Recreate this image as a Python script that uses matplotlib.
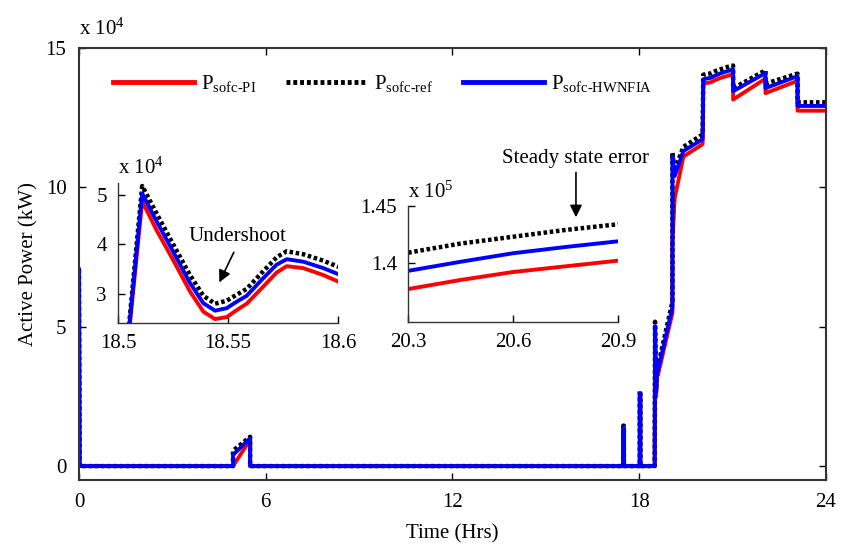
import numpy as np
import matplotlib
matplotlib.use("Agg")
import matplotlib.pyplot as plt
from matplotlib.ticker import FixedLocator, FixedFormatter

plt.rcParams['font.family'] = ['Liberation Serif', 'DejaVu Serif']
plt.rcParams['mathtext.fontset'] = 'custom'
plt.rcParams['mathtext.rm'] = 'Liberation Serif'
plt.rcParams['mathtext.it'] = 'Liberation Serif:italic'
plt.rcParams['mathtext.bf'] = 'Liberation Serif:bold'

# time axis (hours), shared by the three series
t_hrs = [0.0, 0.02, 4.95, 4.95, 5.5, 5.5, 17.49, 17.49, 17.51, 17.51, 18.02, 18.02, 18.04, 18.04, 18.5,
         18.511, 18.5176, 18.5251, 18.5327, 18.5388, 18.5441, 18.5494, 18.5539, 18.5585, 18.5661,
         18.5721, 18.5767, 18.5842, 18.5933, 18.6,
         19.07, 19.07, 19.14, 19.42, 20.04, 20.06, 20.3, 20.45, 20.6, 20.75, 20.9, 21.02, 21.02,
         22.06, 22.06, 23.09, 23.09, 24.0]

# active power (kW)
p_pi = [70500, 0, 0, 0, 9500, 0, 0, 13500, 13500, 0, 0, 25500, 25500, 0, 0,
        48700, 42800, 36800, 30500, 26400, 24900, 25300, 26700, 28000, 31500,
        34300, 35600, 35200, 33800, 32500,
        55000, 80000, 96000, 111000, 115500, 137200, 137700, 138500, 139200, 139700, 140200, 140500, 131500,
        139000, 133800, 138200, 127500, 127500]
p_ref = [70500, 0, 0, 5500, 10500, 0, 0, 14500, 14500, 0, 0, 27000, 27000, 0, 0,
         51800, 46200, 40000, 33800, 29600, 28000, 28600, 29800, 31000, 34600,
         37400, 38600, 38000, 36700, 35500,
         59000, 112500, 106000, 114500, 119000, 140400, 140900, 141700, 142300, 142900, 143400, 143700, 135500,
         142000, 137200, 140800, 130500, 130500]
p_hw = [70500, 0, 0, 4000, 10000, 0, 0, 13700, 13700, 0, 0, 26000, 26000, 0, 0,
        50300, 44600, 38500, 32200, 28100, 26600, 27100, 28400, 29600, 33200,
        35900, 37000, 36500, 35200, 34000,
        57000, 111000, 104000, 113000, 117300, 138800, 139300, 140100, 140850, 141400, 141900, 142300, 134500,
        141000, 135600, 139900, 129200, 129200]

labels = [r'P$_{\text{sofc-PI}}$', r'P$_{\text{sofc-ref}}$', r'P$_{\text{sofc-HWNFIA}}$']

x_ticks = [0, 6, 12, 18, 24]
y_ticks = [0, 50000, 100000, 150000]
y_tick_labels = ['0', '5', '10', '15']
in1_xticks = [18.5, 18.55, 18.6]
in1_xlabels = ['18.5', '18.55', '18.6']
in1_yticks = [30000, 40000, 50000]
in1_ylabels = ['3', '4', '5']
in2_xticks = [20.3, 20.6, 20.9]
in2_xlabels = ['20.3', '20.6', '20.9']
in2_yticks = [140000, 145000]
in2_ylabels = ['1.4', '1.45']

FS = 15
LW = 2.8


def draw_lines(ax, with_labels=False):
    ax.plot(t_hrs, p_pi, color='#ff0000', lw=LW, label=labels[0] if with_labels else None)
    ax.plot(t_hrs, p_ref, color='black', lw=3.2, linestyle=(0, (0.8, 0.6)),
            label=labels[1] if with_labels else None)
    ax.plot(t_hrs, p_hw, color='#0000ff', lw=LW, label=labels[2] if with_labels else None)


def style_axes(ax, lw):
    ax.tick_params(direction='in', labelsize=FS, length=5, width=1)
    for s in ax.spines.values():
        s.set_linewidth(lw)
        s.set_color('#333333')


fig = plt.figure(figsize=(8.41, 5.44), dpi=100)
ax = fig.add_axes([0.0939, 0.1176, 0.8881, 0.7942])
draw_lines(ax, with_labels=True)
ax.set_xlim(0, 24)
ax.set_ylim(-5000, 150000)
ax.xaxis.set_major_locator(FixedLocator(x_ticks))
ax.yaxis.set_major_locator(FixedLocator(y_ticks))
ax.yaxis.set_major_formatter(FixedFormatter(y_tick_labels))
style_axes(ax, 1.5)
ax.tick_params(top=True, right=True, pad=9)
ax.set_xlabel('Time (Hrs)', fontsize=FS, labelpad=9)
ax.set_ylabel('Active Power (kW)', fontsize=FS, labelpad=5)
ax.text(0.0, 1.02, r'x 10$^{4}$', transform=ax.transAxes, fontsize=FS, ha='left', va='bottom')

leg = ax.legend(loc='upper left', bbox_to_anchor=(0.02, 0.985), ncol=3, frameon=False,
                fontsize=FS, handlelength=3.9, handletextpad=0.35, columnspacing=1.4)
for line in leg.get_lines():
    line.set_linewidth(3.5)

# inset 1: undershoot
ax1 = fig.add_axes([0.1403, 0.4062, 0.2616, 0.2574])
draw_lines(ax1)
ax1.set_xlim(18.5, 18.6)
ax1.set_ylim(24100, 52400)
ax1.xaxis.set_major_locator(FixedLocator(in1_xticks))
ax1.xaxis.set_major_formatter(FixedFormatter(in1_xlabels))
ax1.yaxis.set_major_locator(FixedLocator(in1_yticks))
ax1.yaxis.set_major_formatter(FixedFormatter(in1_ylabels))
ax1.spines['top'].set_visible(False)
ax1.spines['right'].set_visible(False)
style_axes(ax1, 1.0)
ax1.tick_params(pad=8)
ax1.text(0.0, 1.03, r'x 10$^{4}$', transform=ax1.transAxes, fontsize=FS, ha='left', va='bottom')
ax1.text(18.5545, 41500, 'Undershoot', fontsize=FS, ha='center', va='center')
ax1.annotate('', xy=(18.5455, 31800), xytext=(18.5532, 38900),
             arrowprops=dict(arrowstyle='-|>', color='black', lw=1.2, mutation_scale=18))

# inset 2: steady state error
ax2 = fig.add_axes([0.4851, 0.408, 0.2497, 0.2132])
draw_lines(ax2)
ax2.set_xlim(20.3, 20.9)
ax2.set_ylim(134800, 145000)
ax2.xaxis.set_major_locator(FixedLocator(in2_xticks))
ax2.xaxis.set_major_formatter(FixedFormatter(in2_xlabels))
ax2.yaxis.set_major_locator(FixedLocator(in2_yticks))
ax2.yaxis.set_major_formatter(FixedFormatter(in2_ylabels))
ax2.spines['top'].set_visible(False)
ax2.spines['right'].set_visible(False)
style_axes(ax2, 1.0)
ax2.tick_params(pad=8)
ax2.text(0.0, 1.03, r'x 10$^{5}$', transform=ax2.transAxes, fontsize=FS, ha='left', va='bottom')
ax2.text(20.78, 149200, 'Steady state error', fontsize=FS, ha='center', va='center')
ax2.annotate('', xy=(20.78, 143770), xytext=(20.78, 148200),
             arrowprops=dict(arrowstyle='-|>', color='black', lw=1.2, mutation_scale=18),
             annotation_clip=False)

fig.savefig('out.png', dpi=100)
